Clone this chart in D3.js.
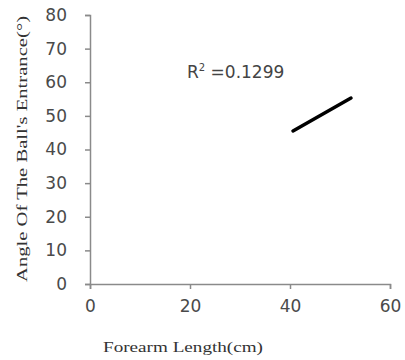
<!DOCTYPE html>
<html><head><meta charset="utf-8">
<script src="https://cdn.jsdelivr.net/npm/d3@7"></script>
<style>body{margin:0;background:#fff}svg{display:block}</style>
</head><body><svg id="c" width="405" height="360"></svg>
<script>
const xTicks = [0, 20, 40, 60];
const yTicks = [0, 10, 20, 30, 40, 50, 60, 70, 80];
const trendX = [40.6, 52.2];
const trendY = [45.5, 55.3];
const r2Label = "0.1299";
const xTitle = "Forearm Length(cm)";
const yTitle = "Angle Of The Ball's Entrance(°)";

const svg = d3.select("#c");
const x = d3.scaleLinear().domain([0, 60]).range([90, 390]);
const y = d3.scaleLinear().domain([0, 80]).range([284, 15]);

const gx = svg.append("g").attr("transform", "translate(0,284)")
  .call(d3.axisBottom(x).tickValues(xTicks).tickSize(5).tickPadding(11));
const gy = svg.append("g").attr("transform", "translate(90,0)")
  .call(d3.axisLeft(y).tickValues(yTicks).tickSize(5).tickPadding(18));
[gx, gy].forEach(g => {
  g.selectAll("path,line").attr("stroke", "#8a8a8a").attr("stroke-width", 1.5);
  g.selectAll("text").attr("fill", "#4a4a4a").attr("font-family", "Verdana, 'DejaVu Sans', sans-serif").attr("font-size", 17);
});

svg.append("line")
  .attr("x1", x(trendX[0])).attr("y1", y(trendY[0]))
  .attr("x2", x(trendX[1])).attr("y2", y(trendY[1]))
  .attr("stroke", "#000").attr("stroke-width", 3.5).attr("stroke-linecap", "round");

const t = svg.append("text").attr("x", 187).attr("y", 78)
  .attr("font-family", "'DejaVu Sans', Verdana, sans-serif").attr("font-size", 17).attr("fill", "#444");
t.append("tspan").text("R");
t.append("tspan").attr("dy", -7).attr("font-size", 10).text("2");
t.append("tspan").attr("dy", 7).text(" =" + r2Label);

svg.append("text").attr("x", 183).attr("y", 352).attr("text-anchor", "middle")
  .attr("font-family", "'Liberation Serif', 'DejaVu Serif', serif").attr("font-size", 15).attr("fill", "#333")
  .attr("textLength", 160).attr("lengthAdjust", "spacingAndGlyphs")
  .text(xTitle);
svg.append("text").attr("transform", "translate(27,149) rotate(-90)").attr("text-anchor", "middle")
  .attr("font-family", "'Liberation Serif', 'DejaVu Serif', serif").attr("font-size", 15).attr("fill", "#333")
  .attr("textLength", 266).attr("lengthAdjust", "spacingAndGlyphs")
  .text(yTitle);
</script></body></html>
